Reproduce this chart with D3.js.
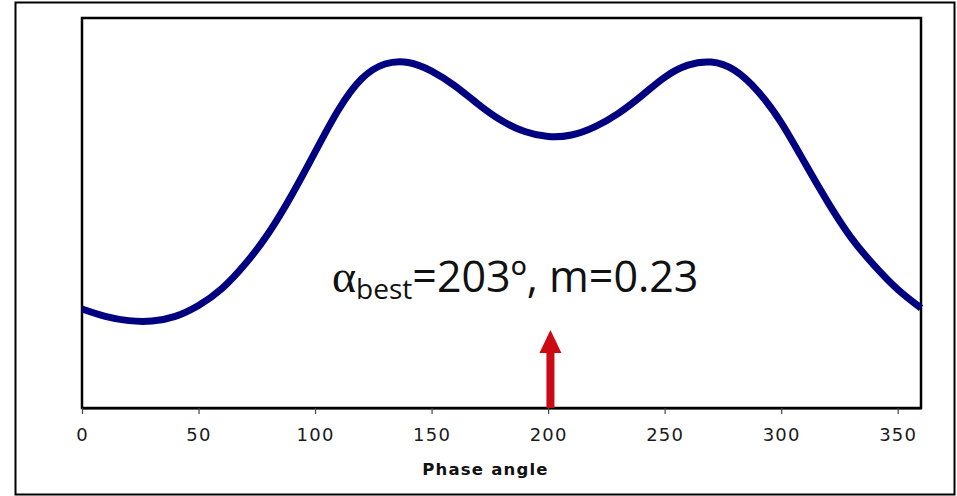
<!DOCTYPE html>
<html>
<head>
<meta charset="utf-8">
<script src="https://cdn.jsdelivr.net/npm/d3@7"></script>
<style>
  body { margin: 0; background: white; }
  svg { display: block; }
</style>
</head>
<body>
<div id="chart"></div>
<script>
var svgWidth = 957;
var svgHeight = 496;

var margin = { top: 18, right: 36, bottom: 88, left: 82 };
var width = svgWidth - margin.left - margin.right;
var height = svgHeight - margin.top - margin.bottom;

// Data (y has no labelled axis, so relative units)
var phase = [0, 10, 20, 30, 40, 50, 60, 70, 80, 90, 100, 110, 120, 130, 140, 150, 160, 170, 180,
             190, 200, 210, 220, 230, 240, 250, 260, 270, 280, 290, 300, 310, 320, 330, 340, 350, 360];
var signal = [25.4, 23.5, 22.4, 22.3, 23.5, 26.3, 30.6, 36.9, 44.8, 54.6, 65.6, 76.4, 84.4, 88.2, 88.6,
              86.4, 82.6, 77.9, 73.7, 70.9, 69.6, 70.0, 72.1, 75.5, 80.0, 84.8, 87.9, 88.7, 86.6, 81.2,
              73.2, 63.0, 52.8, 43.7, 36.5, 30.4, 25.6];
var xTicks = [0, 50, 100, 150, 200, 250, 300, 350];
var arrowAt = [201];
var bestAngle = "203º";
var mValue = "0.23";

var svg = d3.select("#chart")
  .append("svg")
  .attr("width", svgWidth)
  .attr("height", svgHeight);

// outer frame
svg.append("rect")
  .attr("x", 15.5).attr("y", 2.5)
  .attr("width", 939).attr("height", 492)
  .attr("fill", "none")
  .attr("stroke", "black")
  .attr("stroke-width", 2);

var chartGroup = svg.append("g")
  .attr("transform", `translate(${margin.left}, ${margin.top})`);

var xScale = d3.scaleLinear().domain([0, 360]).range([0, width]);
var yScale = d3.scaleLinear().domain([0, 100]).range([height, 0]);

// plot frame
chartGroup.append("rect")
  .attr("x", 0).attr("y", 0)
  .attr("width", width).attr("height", height)
  .attr("fill", "none")
  .attr("stroke", "black")
  .attr("stroke-width", 2.5);

// x axis
var bottomAxis = d3.axisBottom(xScale)
  .tickValues(xTicks)
  .tickSize(6)
  .tickSizeOuter(0)
  .tickPadding(14);

var xAxis = chartGroup.append("g")
  .attr("transform", `translate(0, ${height})`)
  .call(bottomAxis);
xAxis.select(".domain").attr("stroke", "black").attr("stroke-width", 2);
xAxis.selectAll(".tick line").attr("stroke", "#444").attr("stroke-width", 1.2);
xAxis.selectAll(".tick text")
  .attr("fill", "#1a1a1a")
  .style("font-family", "DejaVu Sans, Verdana, sans-serif")
  .style("font-size", "18px")
  .style("letter-spacing", "1.2px");

// x label
chartGroup.append("text")
  .attr("x", width / 2 - 16)
  .attr("y", height + 67)
  .attr("text-anchor", "middle")
  .style("font-family", "DejaVu Sans, Verdana, sans-serif")
  .style("font-size", "16.5px")
  .style("font-weight", "bold")
  .style("letter-spacing", "1.2px")
  .attr("fill", "#111")
  .text("Phase angle");

// curve
var pts = phase.map((p, i) => [p, signal[i]]);
var line = d3.line()
  .x(d => xScale(d[0]))
  .y(d => yScale(d[1]))
  .curve(d3.curveNatural);

chartGroup.append("path")
  .datum(pts)
  .attr("fill", "none")
  .attr("stroke", "#000080")
  .attr("stroke-width", 7)
  .attr("stroke-linejoin", "round")
  .attr("d", line);

// arrow
var ax = xScale(arrowAt[0]);
var arrow = chartGroup.append("g").attr("fill", "#cc0a14");
arrow.append("rect")
  .attr("x", ax - 4).attr("y", height - 56)
  .attr("width", 8).attr("height", 56);
arrow.append("path")
  .attr("d", `M${ax - 11},${height - 55} L${ax},${height - 78} L${ax + 11},${height - 55} Z`);

// annotation
var ann = chartGroup.append("text")
  .attr("x", 250)
  .attr("y", 274)
  .attr("fill", "#111")
  .style("font-family", "Open Sans, sans-serif")
  .style("font-size", "43px");
ann.append("tspan")
  .style("font-family", "Liberation Serif, serif")
  .style("font-size", "46px")
  .text("α");
ann.append("tspan")
  .attr("dy", 7)
  .style("font-size", "28px")
  .text("best");
ann.append("tspan")
  .attr("dy", -7)
  .text(`=${bestAngle}, m=${mValue}`);
</script>
</body>
</html>
